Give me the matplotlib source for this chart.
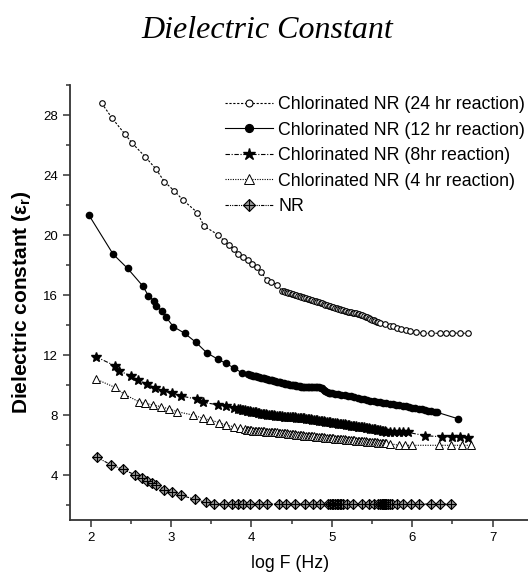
import numpy as np
import matplotlib
matplotlib.use('Agg')
import matplotlib.pyplot as plt
from matplotlib.legend_handler import HandlerTuple

plt.rcParams['font.family'] = ['Liberation Sans', 'DejaVu Sans']
plt.rcParams['mathtext.fontset'] = 'custom'
plt.rcParams['mathtext.rm'] = 'Liberation Sans'
plt.rcParams['mathtext.bf'] = 'Liberation Sans:bold'

# ---- data (log F, dielectric constant) ----
# 24 hr: sparse low-frequency part, dense middle part, sparse tail
x_24hr_a = [2.14, 2.27, 2.43, 2.52, 2.68, 2.81, 2.92, 3.04, 3.15, 3.33, 3.41, 3.59, 3.66, 3.72,
            3.78, 3.84, 3.90, 3.96, 4.01, 4.07, 4.12, 4.19, 4.25, 4.32]
y_24hr_a = [28.78, 27.78, 26.71, 26.11, 25.22, 24.42, 23.55, 22.95, 22.33, 21.49, 20.60, 20.00,
            19.62, 19.33, 19.05, 18.73, 18.55, 18.33, 18.07, 17.89, 17.55, 17.00, 16.89, 16.67]
x_24hr_b = [4.38, 4.40, 4.42, 4.44, 4.46, 4.48, 4.50, 4.52, 4.54, 4.56, 4.58, 4.60, 4.62, 4.64,
            4.66, 4.68, 4.70, 4.72, 4.74, 4.76, 4.78, 4.80, 4.82, 4.84, 4.86, 4.88, 4.90, 4.92,
            4.94, 4.96, 4.98, 5.00, 5.02, 5.04, 5.06, 5.08, 5.10, 5.12, 5.14, 5.16, 5.18, 5.20,
            5.22, 5.24, 5.26, 5.28, 5.30, 5.32, 5.34, 5.36, 5.38, 5.40, 5.42, 5.44, 5.46, 5.48,
            5.50, 5.52, 5.54, 5.56, 5.58, 5.60]
y_24hr_b = [16.27, 16.24, 16.21, 16.18, 16.14, 16.11, 16.08, 16.05, 16.02, 15.99, 15.95, 15.92,
            15.89, 15.86, 15.82, 15.79, 15.75, 15.72, 15.68, 15.65, 15.61, 15.58, 15.54, 15.51,
            15.47, 15.44, 15.40, 15.36, 15.33, 15.29, 15.25, 15.22, 15.18, 15.15, 15.11, 15.08,
            15.04, 15.01, 14.98, 14.94, 14.91, 14.88, 14.86, 14.85, 14.83, 14.81, 14.79, 14.76,
            14.72, 14.68, 14.64, 14.60, 14.55, 14.51, 14.46, 14.41, 14.36, 14.32, 14.27, 14.22,
            14.18, 14.14]
x_24hr_c = [5.66, 5.72, 5.76, 5.81, 5.86, 5.92, 5.97, 6.05, 6.14, 6.23, 6.34, 6.42, 6.50, 6.60, 6.69]
y_24hr_c = [14.04, 13.96, 13.93, 13.82, 13.73, 13.67, 13.60, 13.51, 13.45, 13.45, 13.45, 13.47,
            13.47, 13.45, 13.45]

# 12 hr
x_12hr_a = [1.98, 2.28, 2.46, 2.65, 2.72, 2.79, 2.815, 2.885, 2.935, 3.03, 3.17, 3.31, 3.445,
            3.58, 3.68, 3.78, 3.88]
y_12hr_a = [21.33, 18.73, 17.78, 16.60, 15.95, 15.60, 15.27, 14.95, 14.55, 13.89, 13.45, 12.85,
            12.15, 11.73, 11.45, 11.15, 10.82]
x_12hr_b = [3.96, 3.98, 4.00, 4.02, 4.04, 4.06, 4.08, 4.10, 4.12, 4.14, 4.16, 4.18, 4.20, 4.22,
            4.24, 4.26, 4.28, 4.30, 4.32, 4.34, 4.36, 4.38, 4.40, 4.42, 4.44, 4.46, 4.48, 4.50,
            4.52, 4.54, 4.56, 4.58, 4.60, 4.62, 4.64, 4.66, 4.68, 4.70, 4.72, 4.74, 4.76, 4.78,
            4.80, 4.82, 4.84, 4.86, 4.88, 4.90, 4.92, 4.94, 4.96, 4.98, 5.00]
y_12hr_b = [10.71, 10.68, 10.66, 10.63, 10.61, 10.58, 10.56, 10.53, 10.50, 10.48, 10.45, 10.42,
            10.39, 10.36, 10.33, 10.31, 10.28, 10.26, 10.23, 10.20, 10.17, 10.15, 10.12, 10.10,
            10.07, 10.05, 10.03, 10.01, 9.99, 9.97, 9.95, 9.94, 9.92, 9.90, 9.89, 9.88, 9.87,
            9.86, 9.86, 9.86, 9.86, 9.87, 9.88, 9.88, 9.87, 9.83, 9.77, 9.69, 9.61, 9.55, 9.50,
            9.48, 9.46]
x_12hr_c = [5.04, 5.08, 5.12, 5.16, 5.20, 5.24, 5.28, 5.32, 5.36, 5.40, 5.44, 5.48, 5.52, 5.56,
            5.60, 5.64, 5.68, 5.72, 5.76, 5.80, 5.84, 5.88, 5.92, 5.96, 6.00, 6.04, 6.08, 6.12,
            6.16, 6.20, 6.24, 6.28, 6.31, 6.57]
y_12hr_c = [9.42, 9.39, 9.36, 9.33, 9.30, 9.26, 9.21, 9.15, 9.10, 9.05, 9.00, 8.95, 8.92, 8.88,
            8.85, 8.81, 8.78, 8.74, 8.71, 8.67, 8.64, 8.60, 8.57, 8.53, 8.50, 8.46, 8.42, 8.38,
            8.34, 8.30, 8.26, 8.22, 8.18, 7.75]

# 8 hr
x_8hr_a = [2.065, 2.30, 2.36, 2.50, 2.595, 2.70, 2.80, 2.905, 3.01, 3.13, 3.32, 3.40, 3.59,
           3.69, 3.78]
y_8hr_a = [11.89, 11.29, 10.93, 10.62, 10.33, 10.07, 9.82, 9.60, 9.45, 9.27, 9.05, 8.85, 8.67,
           8.60, 8.45]
x_8hr_b = [3.84, 3.86, 3.88, 3.90, 3.92, 3.94, 3.96, 3.98, 4.00, 4.02, 4.04, 4.06, 4.08, 4.10,
           4.12, 4.14, 4.16, 4.18, 4.20, 4.22, 4.24, 4.26, 4.28, 4.30, 4.32, 4.34, 4.36, 4.38,
           4.40, 4.42, 4.44, 4.46, 4.48, 4.50, 4.52, 4.54, 4.56, 4.58, 4.60, 4.62, 4.64, 4.66,
           4.68, 4.70, 4.72, 4.74, 4.76, 4.78, 4.80, 4.82, 4.84, 4.86, 4.88, 4.90, 4.92, 4.94,
           4.96, 4.98, 5.00, 5.02, 5.04, 5.06, 5.08, 5.10, 5.12, 5.14, 5.16, 5.18, 5.20, 5.22,
           5.24, 5.26, 5.28, 5.30, 5.32, 5.34, 5.36, 5.38, 5.40, 5.42, 5.44, 5.46, 5.48, 5.50,
           5.52, 5.54, 5.56, 5.58, 5.60, 5.62, 5.64, 5.66, 5.68]
y_8hr_b = [8.40, 8.38, 8.36, 8.34, 8.32, 8.30, 8.27, 8.25, 8.23, 8.21, 8.19, 8.17, 8.14, 8.12,
           8.10, 8.08, 8.06, 8.04, 8.02, 8.01, 7.99, 7.98, 7.97, 7.95, 7.94, 7.93, 7.92, 7.91,
           7.90, 7.89, 7.88, 7.87, 7.86, 7.85, 7.84, 7.84, 7.83, 7.82, 7.81, 7.80, 7.79, 7.77,
           7.76, 7.74, 7.72, 7.71, 7.69, 7.67, 7.66, 7.64, 7.62, 7.61, 7.59, 7.57, 7.56, 7.54,
           7.52, 7.51, 7.49, 7.47, 7.46, 7.44, 7.43, 7.41, 7.40, 7.38, 7.37, 7.35, 7.33, 7.32,
           7.30, 7.28, 7.27, 7.25, 7.23, 7.22, 7.20, 7.18, 7.17, 7.15, 7.13, 7.12, 7.10, 7.08,
           7.06, 7.04, 7.02, 7.00, 6.98, 6.96, 6.94, 6.92, 6.90]
x_8hr_c = [5.73, 5.77, 5.83, 5.89, 5.95, 6.16, 6.37, 6.49, 6.60, 6.70]
y_8hr_c = [6.86, 6.85, 6.85, 6.84, 6.84, 6.62, 6.55, 6.55, 6.55, 6.45]

# 4 hr
x_4hr_a = [2.065, 2.30, 2.42, 2.60, 2.68, 2.78, 2.88, 2.98, 3.08, 3.27, 3.40, 3.49, 3.60, 3.69,
           3.78, 3.86]
y_4hr_a = [10.40, 9.85, 9.38, 8.89, 8.78, 8.67, 8.55, 8.40, 8.22, 8.00, 7.78, 7.67, 7.49, 7.33,
           7.22, 7.11]
x_4hr_b = [3.92, 3.94, 3.96, 3.98, 4.00, 4.02, 4.04, 4.06, 4.08, 4.10, 4.12, 4.14, 4.16, 4.18,
           4.20, 4.22, 4.24, 4.26, 4.28, 4.30, 4.32, 4.34, 4.36, 4.38, 4.40, 4.42, 4.44, 4.46,
           4.48, 4.50, 4.52, 4.54, 4.56, 4.58, 4.60, 4.62, 4.64, 4.66, 4.68, 4.70, 4.72, 4.74,
           4.76, 4.78, 4.80, 4.82, 4.84, 4.86, 4.88, 4.90, 4.92, 4.94, 4.96, 4.98, 5.00, 5.02,
           5.04, 5.06, 5.08, 5.10, 5.12, 5.14, 5.16, 5.18, 5.20, 5.22, 5.24, 5.26, 5.28, 5.30,
           5.32, 5.34, 5.36, 5.38, 5.40, 5.42, 5.44, 5.46, 5.48, 5.50, 5.52, 5.54, 5.56, 5.58,
           5.60, 5.62, 5.64, 5.66, 5.68]
y_4hr_b = [7.04, 7.02, 7.00, 6.98, 6.97, 6.96, 6.95, 6.94, 6.94, 6.93, 6.93, 6.92, 6.91, 6.90,
           6.90, 6.89, 6.88, 6.87, 6.86, 6.85, 6.84, 6.83, 6.82, 6.80, 6.79, 6.78, 6.77, 6.76,
           6.75, 6.73, 6.72, 6.71, 6.70, 6.68, 6.67, 6.66, 6.65, 6.63, 6.62, 6.61, 6.60, 6.59,
           6.58, 6.57, 6.56, 6.55, 6.54, 6.53, 6.52, 6.51, 6.50, 6.49, 6.48, 6.47, 6.46, 6.44,
           6.43, 6.42, 6.41, 6.40, 6.39, 6.38, 6.37, 6.36, 6.35, 6.34, 6.33, 6.32, 6.31, 6.30,
           6.29, 6.28, 6.27, 6.26, 6.25, 6.24, 6.23, 6.22, 6.21, 6.20, 6.19, 6.18, 6.17, 6.16,
           6.15, 6.14, 6.13, 6.12, 6.11]
x_4hr_c = [5.72, 5.83, 5.91, 6.00, 6.33, 6.48, 6.62, 6.73]
y_4hr_c = [6.10, 5.98, 5.98, 5.98, 5.98, 5.98, 5.98, 5.98]

# NR
x_nr = [2.077, 2.26, 2.40, 2.55, 2.64, 2.70, 2.76, 2.82, 2.91, 3.01, 3.12, 3.30, 3.43, 3.54,
        3.66, 3.76, 3.84, 3.89, 3.98, 4.09, 4.19, 4.34, 4.43, 4.54, 4.67, 4.77, 4.85, 4.95,
        4.98, 5.00, 5.02, 5.04, 5.06, 5.08, 5.10, 5.12, 5.14, 5.19, 5.27, 5.37, 5.46, 5.52,
        5.58, 5.60, 5.62, 5.63, 5.64, 5.65, 5.66, 5.67, 5.68, 5.70, 5.72, 5.75, 5.81, 5.89,
        5.98, 6.08, 6.23, 6.35, 6.48]
y_nr = [5.18, 4.67, 4.38, 4.02, 3.78, 3.62, 3.49, 3.33, 3.03, 2.85, 2.65, 2.38, 2.17, 2.08,
        2.06, 2.06, 2.06, 2.06, 2.06, 2.06, 2.06, 2.06, 2.06, 2.06, 2.06, 2.06, 2.06, 2.06,
        2.06, 2.06, 2.06, 2.06, 2.06, 2.06, 2.06, 2.06, 2.06, 2.06, 2.06, 2.06, 2.06, 2.06,
        2.06, 2.06, 2.06, 2.06, 2.06, 2.06, 2.06, 2.06, 2.06, 2.06, 2.06, 2.06, 2.06, 2.06,
        2.06, 2.06, 2.06, 2.06, 2.06]

labels = ['Chlorinated NR (24 hr reaction)', 'Chlorinated NR (12 hr reaction)',
          'Chlorinated NR (8hr reaction)', 'Chlorinated NR (4 hr reaction)', 'NR']

x_24hr = x_24hr_a + x_24hr_b + x_24hr_c
y_24hr = y_24hr_a + y_24hr_b + y_24hr_c
x_12hr = x_12hr_a + x_12hr_b + x_12hr_c
y_12hr = y_12hr_a + y_12hr_b + y_12hr_c
x_8hr = x_8hr_a + x_8hr_b + x_8hr_c
y_8hr = y_8hr_a + y_8hr_b + y_8hr_c
x_4hr = x_4hr_a + x_4hr_b + x_4hr_c
y_4hr = y_4hr_a + y_4hr_b + y_4hr_c

W, H = 528, 574
fig = plt.figure(figsize=(W / 100, H / 100), dpi=100)
ax = fig.add_axes([70 / W, 54 / H, (W - 70) / W, 435 / H])

lw = 0.8
l24, = ax.plot(x_24hr, y_24hr, color='black', lw=lw, linestyle=(0, (2, 1.5)),
               marker='o', ms=4, mfc='white', mec='black', mew=0.8)
l12, = ax.plot(x_12hr, y_12hr, color='black', lw=lw, linestyle='-',
               marker='o', ms=4.5, mfc='black', mec='black')
l8, = ax.plot(x_8hr, y_8hr, color='black', lw=lw, linestyle=(0, (4, 1.5, 1, 1.5)),
              marker='*', ms=7, mfc='black', mec='black')
l4, = ax.plot(x_4hr, y_4hr, color='black', lw=lw, linestyle=(0, (1, 1.2)),
              marker='^', ms=6, mfc='white', mec='black', mew=0.7)
lnr, = ax.plot(x_nr, y_nr, color='black', lw=lw, linestyle=(0, (3, 1, 1, 1, 1, 1)),
               marker='D', ms=4.6, mfc='0.6', mec='black', mew=0.8)
lnr_plus, = ax.plot(x_nr, y_nr, linestyle='none', marker='+', ms=6.5, mec='black', mew=0.8)

ax.set_xlim(1.745, 7.44)
ax.set_ylim(1, 30)
ax.set_xticks([2, 3, 4, 5, 6, 7])
ax.set_xticks(np.arange(2.5, 7.5, 1.0), minor=True)
ax.set_yticks([4, 8, 12, 16, 20, 24, 28])
ax.set_yticks([2, 6, 10, 14, 18, 22, 26, 30], minor=True)
for s in ['top', 'right']:
    ax.spines[s].set_visible(False)
for s in ['left', 'bottom']:
    ax.spines[s].set_linewidth(1.3)
    ax.spines[s].set_color('#333333')
ax.tick_params(which='major', length=5, width=1.1, labelsize=9.5, color='#333333')
ax.tick_params(which='minor', length=3, width=1.1, color='#333333')

ax.set_xlabel('log F (Hz)', fontsize=12.8)
ax.xaxis.set_label_coords(0.48, -0.08)
ax.set_ylabel(r'Dielectric constant (ε$_\mathbf{r}$)', fontsize=15, fontweight='bold')
ax.yaxis.set_label_coords(-0.08, 0.5)

fig.text(267 / W, 1 - 30 / H, 'Dielectric Constant', ha='center', va='center',
         family='Liberation Serif', style='italic', fontsize=23)

ax.legend([l24, l12, l8, l4, (lnr, lnr_plus)], labels,
          handler_map={tuple: HandlerTuple(ndivide=1)},
          loc='upper left', bbox_to_anchor=(225 / W, 1 - 96 / H), bbox_transform=fig.transFigure,
          frameon=False, fontsize=12.8, handlelength=2.7, handletextpad=0.3,
          labelspacing=0.48, borderpad=0, borderaxespad=0, markerscale=1.25)

fig.savefig('out.png', dpi=100)
